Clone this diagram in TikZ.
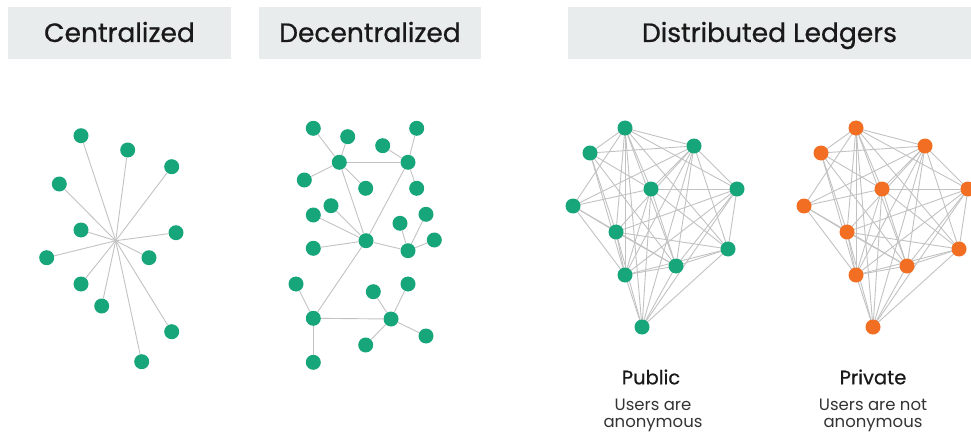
\documentclass[tikz,border=0pt]{standalone}
\usepackage{fontspec}
\setmainfont{Poppins}
\newfontfamily\headfont{Poppins}[FakeBold=0.7]
\usetikzlibrary{backgrounds}
\definecolor{peergreen}{HTML}{17A57A}
\definecolor{peerorange}{HTML}{F26E22}
\definecolor{linkgrey}{HTML}{C2C2C2}
\definecolor{headgrey}{HTML}{E9ECEC}
\tikzset{
  peer/.style={circle,fill=#1,minimum size=15pt,inner sep=0pt},
  peer/.default=peergreen,
  link/.style={draw=linkgrey,line width=0.9pt},
  header/.style={fill=headgrey,minimum height=52pt,inner sep=0pt,
    text height=18pt,text depth=0pt,
    font=\headfont\fontsize{26.5}{30}\selectfont,text=black!90},
  kind/.style={font=\headfont\fontsize{19.5}{22}\selectfont,text=black!90},
  note/.style={font=\fontsize{16.5}{17}\selectfont,text=black!80,align=center},
}
\begin{document}
\begin{tikzpicture}[x=1pt,y=-1pt]
  \useasboundingbox (0,0) rectangle (971,433);

  % headers
  \node [header,minimum width=223pt] (hcent) at (119.5,33) {Centralized};
  \node [header,minimum width=222pt] (hdec) at (370,33) {Decentralized};
  \node [header,minimum width=403pt] (hdist) at (769.5,33) {Distributed Ledgers\hspace{10pt}};

  % centralized
  \coordinate (ctr) at (115.7,240.7);
  \foreach \n/\x/\y in {1/81/135.7, 2/127.7/150, 3/171.7/166.7, 4/59.3/184,
      5/81/230, 6/176/232.7, 7/46.7/257.7, 8/149/257.7, 9/81/284,
      10/101.7/306, 11/171.7/331.7, 12/141.7/361.7}
  {
    \node [peer] (c\n) at (\x,\y) {};
    \draw [link] (c\n) -- (ctr);
  }

  % decentralized
  \foreach \n/\x/\y in {1/339.3/162.3, 2/408/162.3, 3/366/240.7,
      4/408/250.7, 5/313.3/318.3, 6/391/319}
    \node [peer] (h\n) at (\x,\y) {};
  \foreach \n/\x/\y/\h in {1/313.3/128.3/1, 2/347.7/136.7/1, 3/304.3/180/1,
      4/365.7/188.3/1, 5/382.7/145.7/2, 6/416.7/128.3/2, 7/416.7/188.3/2,
      8/313.3/215/3, 9/331/205.7/3, 10/313.3/248.3/3, 11/400/223.3/4,
      12/426/214.3/4, 13/434.3/240/4, 14/296/284/5, 15/313.3/362.3/5,
      16/373.3/291.7/6, 17/408/284/6, 18/365.7/345/6, 19/426/336/6}
  {
    \node [peer] (l\n) at (\x,\y) {};
    \draw [link] (l\n) -- (h\h);
  }
  \foreach \s/\t in {1/2, 1/3, 2/3, 3/4, 3/5, 5/6}
    \draw [link] (h\s) -- (h\t);

  % distributed ledgers: public and private
  \foreach \dx/\col/\p in {0/peergreen/pub, 231/peerorange/priv}
  {
    \begin{scope}[xshift=\dx]
      \foreach \n/\x/\y in {a/625/128, b/694/146, c/590/153, d/651/189,
          e/737/189, f/573/206, g/616/232, h/728/249, i/676/266,
          j/625/275, k/642/327}
        \node [peer=\col] (\p\n) at (\x,\y) {};
    \end{scope}
    \begin{pgfonlayer}{background}
      \foreach \s/\t in {a/b, a/c, a/d, a/e, a/f, a/g, a/h, a/i, a/j, a/k,
          b/c, b/d, b/e, b/f, b/g, b/h, b/i, b/j, b/k,
          c/d, c/g, c/i, c/j,
          d/e, d/f, d/h, d/i, d/j, d/k,
          e/g, e/h, e/i, e/j, e/k,
          f/g, f/i, f/j,
          g/h, g/i, g/j, g/k,
          h/i, h/j, h/k,
          i/j, i/k, j/k}
        \draw [link] (\p\s.center) -- (\p\t.center);
    \end{pgfonlayer}
  }

  % captions
  \node [kind] (tpub) at (651,377) {Public};
  \node [note] (npub) at (653,415) {Users are\\anonymous};
  \node [kind] (tpriv) at (873,377) {Private};
  \node [note] (npriv) at (873,415) {Users are not\\anonymous};
\end{tikzpicture}
\end{document}
